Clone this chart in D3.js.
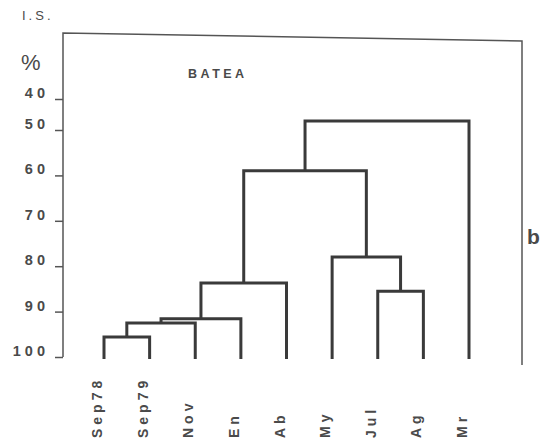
<!DOCTYPE html>
<html>
<head>
<meta charset="utf-8">
<script src="https://cdn.jsdelivr.net/npm/d3@7"></script>
<style>
  body { margin: 0; background: #fff; }
  svg { display: block; }
  text { font-family: "Liberation Sans", Arial, sans-serif; fill: #4a4a4a; }
</style>
</head>
<body>
<div id="chart"></div>
<script>
// leaves in dendrogram order
const leaves = ['Sep78', 'Sep79', 'Nov', 'En', 'Ab', 'My', 'Jul', 'Ag', 'Mr'];
// linkage: [left, right, similarity %]; ids >= leaves.length are earlier merges
const merges = [
    [0, 1, 95.6],
    [9, 2, 92.5],
    [10, 3, 91.6],
    [11, 4, 83.7],
    [6, 7, 85.5],
    [5, 13, 78.0],
    [12, 14, 59.0],
    [15, 8, 47.1],
];
const yTicks = [40, 50, 60, 70, 80, 90, 100];

const width = 545;
const height = 440;

const x = d3.scalePoint().domain(leaves).range([104, 469]);
// the printed axis has a compressed 40-50 step
const y = d3.scaleLinear().domain([40, 50, 100]).range([99, 130, 357]);

const svg = d3.select('#chart').append('svg')
    .attr('width', width)
    .attr('height', height);

// frame
svg.append('path')
    .attr('d', `M63,${y(100)}V33L522,41V365`)
    .attr('fill', 'none')
    .attr('stroke', '#555')
    .attr('stroke-width', 1.5);

// y axis
const yAxis = g => g
    .attr('transform', 'translate(63,0)')
    .call(d3.axisLeft(y).tickValues(yTicks).tickSize(8).tickFormat(d => d))
    .call(g => g.select('.domain').remove())
    .call(g => g.selectAll('.tick line').attr('stroke', '#555').attr('stroke-width', 1.5))
    .call(g => g.selectAll('.tick text')
        .attr('x', -14)
        .attr('dy', '-0.1em')
        .attr('font-size', 14.5)
        .attr('font-weight', 'bold')
        .attr('letter-spacing', 4)
        .attr('fill', '#4a4a4a')
        .attr('font-family', '"Liberation Sans", Arial, sans-serif'));
svg.append('g').call(yAxis);

svg.append('text').attr('x', 22).attr('y', 20)
    .attr('font-size', 13).attr('letter-spacing', 3).text('I.S.');
svg.append('text').attr('x', 21).attr('y', 70)
    .attr('font-size', 22).text('%');
svg.append('text').attr('x', 188).attr('y', 78)
    .attr('font-size', 12.5).attr('font-weight', 'bold').attr('letter-spacing', 3.5).text('BATEA');
svg.append('text').attr('x', 527).attr('y', 244)
    .attr('font-size', 21).attr('font-weight', 'bold').attr('fill', '#333').text('b');

// dendrogram
const nodes = leaves.map(d => ({x: x(d), y: y(100)}));
const links = svg.append('g')
    .attr('fill', 'none')
    .attr('stroke', '#3a3a3a')
    .attr('stroke-width', 3)
    .attr('stroke-linejoin', 'miter');
merges.forEach(([a, b, h]) => {
    const l = nodes[a], r = nodes[b], yy = y(h);
    links.append('path')
        .attr('d', `M${l.x},${l.y + (a < leaves.length ? 2 : 0)}V${yy}H${r.x}V${r.y + (b < leaves.length ? 2 : 0)}`);
    nodes.push({x: (l.x + r.x) / 2, y: yy});
});

// leaf labels
svg.append('g').selectAll('text').data(leaves).join('text')
    .attr('transform', d => `translate(${x(d) - 2},438) rotate(-90)`)
    .attr('font-size', 14)
    .attr('font-weight', 'bold')
    .attr('letter-spacing', 4)
    .text(d => d);
</script>
</body>
</html>
